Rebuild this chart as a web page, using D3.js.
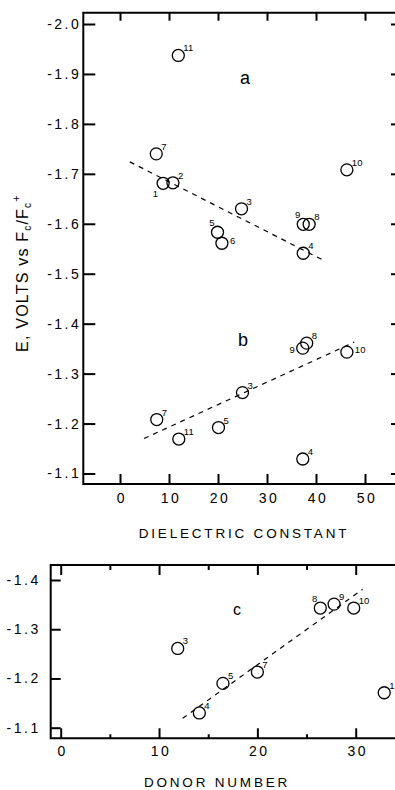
<!DOCTYPE html>
<html>
<head>
<meta charset="utf-8">
<script src="https://cdn.jsdelivr.net/npm/d3@7"></script>
<style>
  body { margin: 0; background: #fff; }
  svg { display: block; font-family: "Liberation Sans", "DejaVu Sans", sans-serif; }
</style>
</head>
<body>
<svg id="chart" width="395" height="790"></svg>
<script>
// panel a : reduction potential vs dielectric constant (first wave)
var idsA = ["1", "2", "3", "4", "5", "6", "7", "8", "9", "10", "11"];
var dielA = [8.8, 10.8, 24.8, 37.4, 19.9, 20.8, 7.4, 38.6, 37.4, 46.3, 11.9];
var eA = [-1.681, -1.682, -1.630, -1.541, -1.583, -1.561, -1.740, -1.599, -1.599, -1.708, -1.937];

// panel b : second wave
var idsB = ["3", "4", "5", "7", "8", "9", "10", "11"];
var dielB = [25.0, 37.3, 20.1, 7.5, 38.1, 37.3, 46.3, 12.0];
var eB = [-1.262, -1.129, -1.192, -1.208, -1.361, -1.351, -1.343, -1.169];

// panel c : vs donor number
var idsC = ["1", "3", "4", "5", "7", "8", "9", "10"];
var donorC = [32.9, 11.9, 14.1, 16.5, 20.0, 26.4, 27.8, 29.8];
var eC = [-1.171, -1.261, -1.130, -1.190, -1.213, -1.343, -1.351, -1.343];

// dashed fit lines (end points)
var fitAx = [2.0, 41.7], fitAy = [-1.724, -1.526];
var fitBx = [4.9, 47.8], fitBy = [-1.170, -1.363];
var fitCx = [12.4, 30.7], fitCy = [-1.119, -1.381];

// tick values
var topYTicks = [-2.0, -1.9, -1.8, -1.7, -1.6, -1.5, -1.4, -1.3, -1.2, -1.1];
var topXTicks = [0, 10, 20, 30, 40, 50];
var botYTicks = [-1.4, -1.3, -1.2, -1.1];
var botXTicks = [0, 10, 20, 30];
var botXMinor = [5, 15, 25];

// where the number sits next to its circle (default upper right)
var labelSide = {
    "a1": "ll", "a5": "ul", "a6": "r", "a9": "ul",
    "b9": "l", "b10": "r",
    "c8": "ul"
};

var svg = d3.select("#chart");

var xTop = d3.scaleLinear().domain([0, 50]).range([120, 365]);
var yTop = d3.scaleLinear().domain([-2.0, -1.1]).range([24, 473.5]);
var xBot = d3.scaleLinear().domain([0, 30]).range([60.7, 355.7]);
var yBot = d3.scaleLinear().domain([-1.4, -1.1]).range([580, 727.7]);

function fmt(d) {
    return "-" + Math.abs(d).toFixed(1);
}

function frame(left, top, bottom) {
    svg.append("path")
        .attr("d", "M398," + top + "H" + left + "V" + bottom + "H398")
        .attr("stroke", "#000")
        .attr("stroke-width", 2)
        .attr("fill", "none");
}

function drawPoints(panel, ids, xs, ys, xs_, ys_) {
    var data = ids.map(function (id, i) {
        return { id: id, x: xs[i], y: ys[i] };
    });
    var g = svg.append("g");
    g.selectAll("circle")
        .data(data)
        .enter().append("circle")
        .attr("cx", function (d) { return xs_(d.x); })
        .attr("cy", function (d) { return ys_(d.y); })
        .attr("r", 6)
        .attr("fill", "none")
        .attr("stroke", "#000")
        .attr("stroke-width", 1.3);

    g.selectAll("text")
        .data(data)
        .enter().append("text")
        .attr("font-size", 9.5)
        .attr("text-anchor", function (d) {
            var s = labelSide[panel + d.id];
            return (s == "ll" || s == "ul" || s == "l") ? "end" : "start";
        })
        .attr("x", function (d) {
            var s = labelSide[panel + d.id];
            var cx = xs_(d.x);
            if (s == "ll") return cx - 5;
            if (s == "ul") return cx - 3;
            if (s == "l") return cx - 8;
            if (s == "r") return cx + 8;
            return cx + 5;
        })
        .attr("y", function (d) {
            var s = labelSide[panel + d.id];
            var cy = ys_(d.y);
            if (s == "ll") return cy + 14;
            if (s == "ul") return cy - 6;
            if (s == "l") return cy + 5;
            if (s == "r") return cy + 1;
            return cy - 4;
        })
        .text(function (d) { return d.id; });
}

function fitLine(xs, ys, xs_, ys_) {
    svg.append("line")
        .attr("x1", xs_(xs[0])).attr("y1", ys_(ys[0]))
        .attr("x2", xs_(xs[1])).attr("y2", ys_(ys[1]))
        .attr("stroke", "#000")
        .attr("stroke-width", 1.2)
        .attr("stroke-dasharray", "5,5");
}

function cleanAxis(g) {
    g.select(".domain").remove();
    g.selectAll(".tick line").attr("stroke-width", 2);
    g.selectAll("text")
        .attr("fill", "#000")
        .attr("font-size", 14)
        .attr("letter-spacing", 2.5)
        .attr("font-family", "Liberation Sans");
}

// ---------- top panel ----------
frame(83.3, 12.7, 484);

svg.append("g")
    .attr("transform", "translate(83.3,0)")
    .call(d3.axisLeft(yTop).tickValues(topYTicks).tickSize(-12).tickPadding(2).tickFormat(fmt))
    .call(cleanAxis);

svg.append("g")
    .attr("transform", "translate(395,0)")
    .call(d3.axisRight(yTop).tickValues(topYTicks).tickSize(-4).tickFormat(""))
    .call(cleanAxis);

svg.append("g")
    .attr("transform", "translate(0,484)")
    .call(d3.axisBottom(xTop).tickValues(topXTicks).tickSize(-10).tickPadding(9).tickFormat(d3.format("d")))
    .call(cleanAxis)
    .selectAll("text").attr("dx", 1.5);

svg.append("g")
    .attr("transform", "translate(0,12.7)")
    .call(d3.axisTop(xTop).tickValues(topXTicks).tickSize(-8).tickFormat(""))
    .call(cleanAxis);

fitLine(fitAx, fitAy, xTop, yTop);
fitLine(fitBx, fitBy, xTop, yTop);
drawPoints("a", idsA, dielA, eA, xTop, yTop);
drawPoints("b", idsB, dielB, eB, xTop, yTop);

svg.append("text").attr("x", 245).attr("y", 84).attr("font-size", 18).attr("text-anchor", "middle").text("a");
svg.append("text").attr("x", 243).attr("y", 346).attr("font-size", 18).attr("text-anchor", "middle").text("b");

svg.append("text")
    .attr("x", 244).attr("y", 538)
    .attr("font-size", 13.5)
    .attr("letter-spacing", 2.8)
    .attr("text-anchor", "middle")
    .text("DIELECTRIC  CONSTANT");

var yt = svg.append("text")
    .attr("transform", "translate(28,273) rotate(-90)")
    .attr("font-size", 16)
    .attr("letter-spacing", 1.2)
    .attr("text-anchor", "middle");
yt.append("tspan").text("E, VOLTS  vs  F");
yt.append("tspan").attr("font-size", 10).attr("dy", 3).text("c");
yt.append("tspan").attr("dy", -3).text("/F");
yt.append("tspan").attr("font-size", 10).attr("dy", 3).text("c");
yt.append("tspan").attr("font-size", 11).attr("dy", -11).text("+");

// ---------- bottom panel ----------
frame(50.7, 565, 738.3);

svg.append("g")
    .attr("transform", "translate(50.7,0)")
    .call(d3.axisLeft(yBot).tickValues(botYTicks).tickSize(-10).tickPadding(10).tickFormat(fmt))
    .call(cleanAxis);

svg.append("g")
    .attr("transform", "translate(0,738.3)")
    .call(d3.axisBottom(xBot).tickValues(botXTicks).tickSize(-10).tickPadding(8).tickFormat(d3.format("d")))
    .call(cleanAxis)
    .selectAll("text").attr("dx", 1.5);

svg.append("g")
    .attr("transform", "translate(0,738.3)")
    .call(d3.axisBottom(xBot).tickValues(botXMinor).tickSize(-4).tickFormat(""))
    .call(cleanAxis);

svg.append("g")
    .attr("transform", "translate(0,565)")
    .call(d3.axisTop(xBot).tickValues(botXTicks).tickSize(-10).tickFormat(""))
    .call(cleanAxis);

svg.append("g")
    .attr("transform", "translate(0,565)")
    .call(d3.axisTop(xBot).tickValues(botXMinor).tickSize(-5).tickFormat(""))
    .call(cleanAxis);

fitLine(fitCx, fitCy, xBot, yBot);
drawPoints("c", idsC, donorC, eC, xBot, yBot);

svg.append("text").attr("x", 237).attr("y", 615).attr("font-size", 16).attr("text-anchor", "middle").text("c");

svg.append("text")
    .attr("x", 217).attr("y", 787)
    .attr("font-size", 13.5)
    .attr("letter-spacing", 2.8)
    .attr("text-anchor", "middle")
    .text("DONOR  NUMBER");
</script>
</body>
</html>
